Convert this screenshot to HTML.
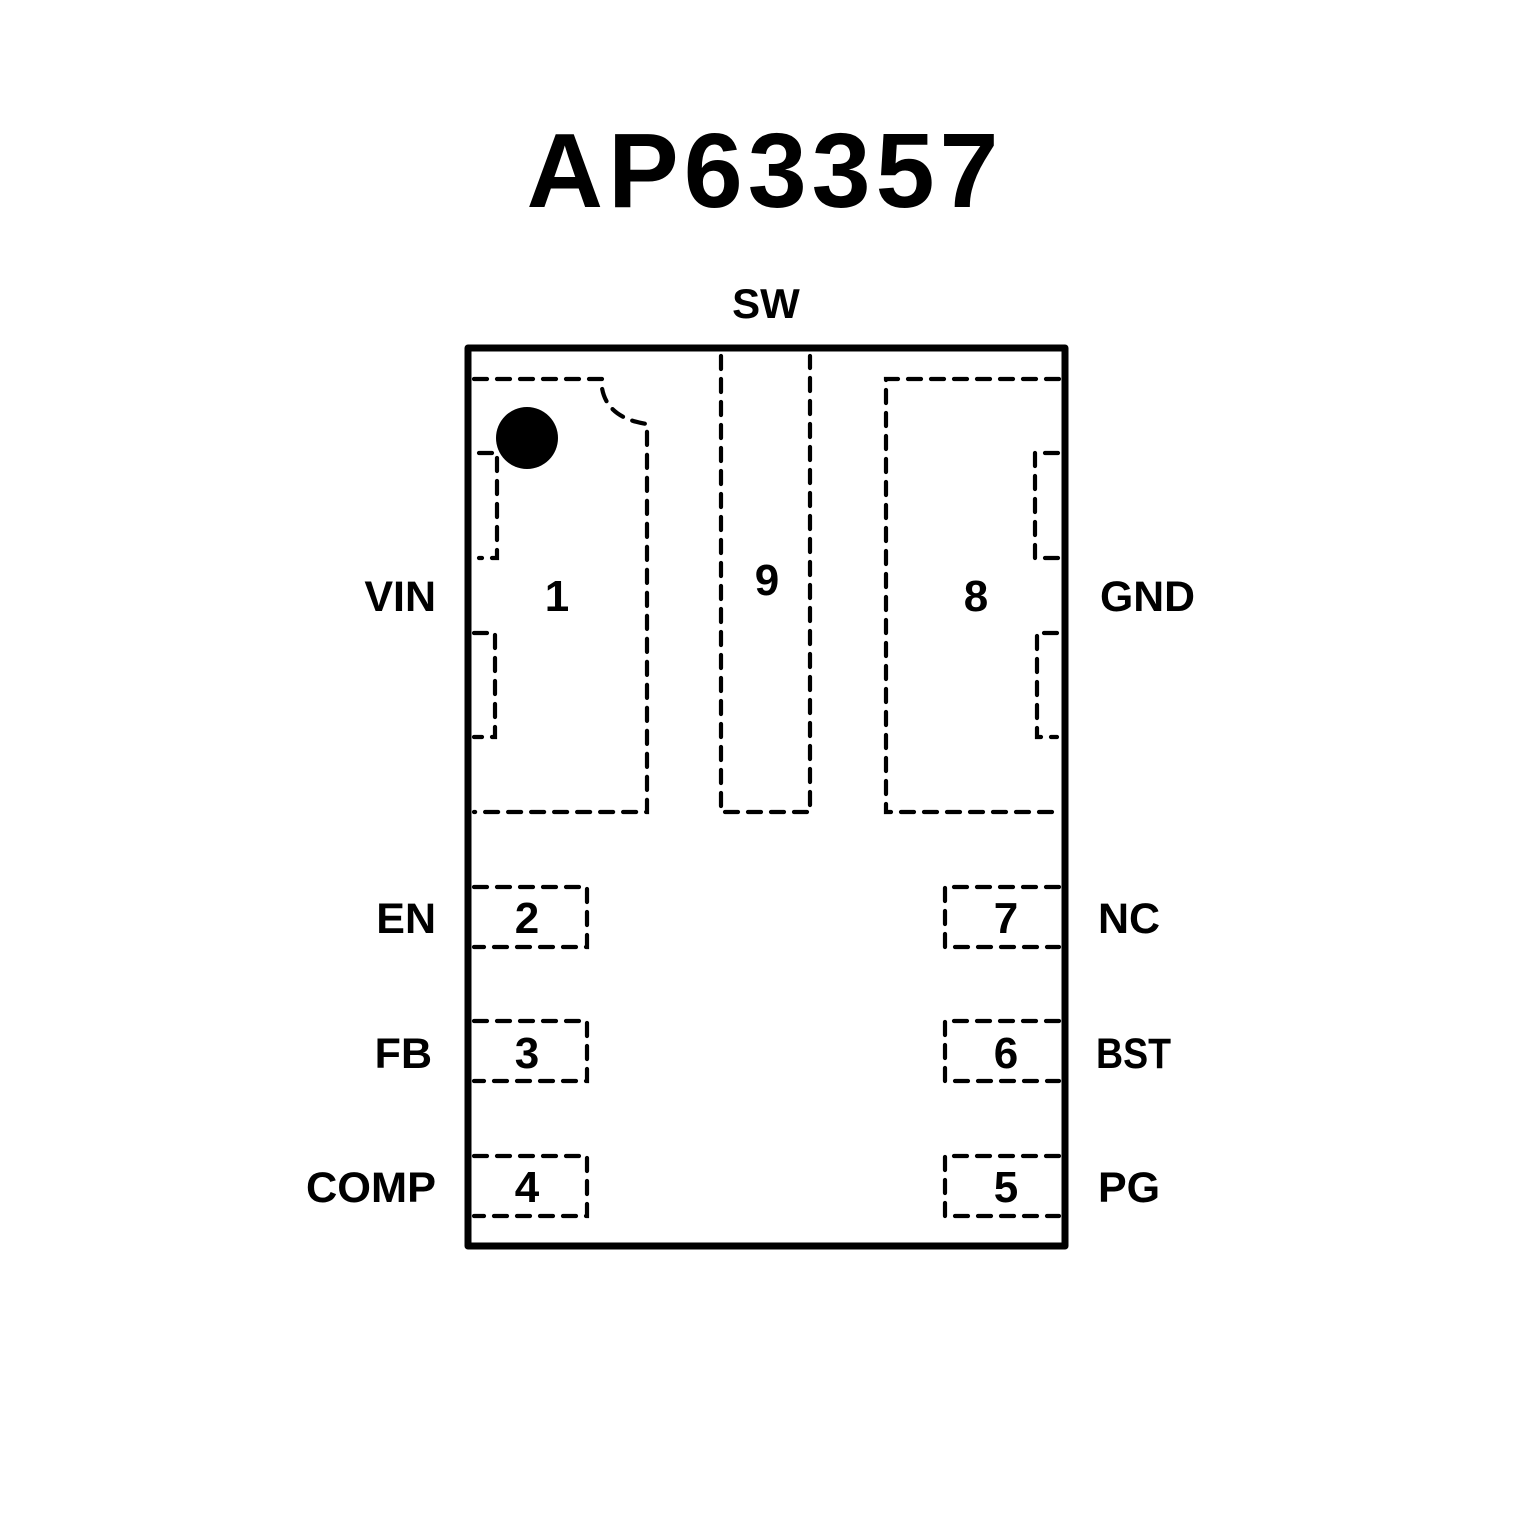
<!DOCTYPE html>
<html><head><style>
html,body{margin:0;padding:0;background:#fff;}
svg{display:block;}
text{font-family:"Liberation Sans",sans-serif;font-weight:bold;fill:#000;}
</style></head><body>
<svg width="1535" height="1535" viewBox="0 0 1535 1535" xmlns="http://www.w3.org/2000/svg">
<rect width="1535" height="1535" fill="#fff"/>
<text x="765" y="207" font-size="106" text-anchor="middle" letter-spacing="5">AP63357</text>
<text x="766" y="318" font-size="42" text-anchor="middle">SW</text>
<rect x="468" y="348" width="597" height="898" fill="none" stroke="#000" stroke-width="7" stroke-linejoin="round"/>
<g fill="none" stroke="#000" stroke-width="4.2" stroke-dasharray="13 10" stroke-linecap="round">
<path d="M474 379 H602 V388 Q607 418 647 424 V812 H474"/>
<path d="M479 453 H497 V558 H479"/>
<path d="M474 633 H495 V737 H474"/>
<path d="M721 356 V812 H810 V356"/>
<path d="M1059 379 H886 V812 H1059"/>
<path d="M1058 453 H1035 V558 H1058"/>
<path d="M1057 633 H1037 V737 H1057"/>
<path d="M474 887 H587 V947 H474"/>
<path d="M474 1021 H587 V1081 H474"/>
<path d="M474 1156 H587 V1216 H474"/>
<path d="M1059 887 H945 V947 H1059"/>
<path d="M1059 1021 H945 V1081 H1059"/>
<path d="M1059 1156 H945 V1216 H1059"/>
</g>
<circle cx="527" cy="438" r="31" fill="#000"/>
<g font-size="44" text-anchor="middle">
<text x="557" y="611">1</text>
<text x="767" y="595">9</text>
<text x="976" y="611">8</text>
<text x="527" y="933">2</text>
<text x="527" y="1068">3</text>
<text x="527" y="1202">4</text>
<text x="1006" y="933">7</text>
<text x="1006" y="1068">6</text>
<text x="1006" y="1202">5</text>
</g>
<g font-size="43" text-anchor="end">
<text x="436" y="611">VIN</text>
<text x="436" y="933">EN</text>
<text x="432" y="1068">FB</text>
<text x="436" y="1202" textLength="130" lengthAdjust="spacingAndGlyphs">COMP</text>
</g>
<g font-size="43">
<text x="1100" y="611" textLength="95" lengthAdjust="spacingAndGlyphs">GND</text>
<text x="1098" y="933">NC</text>
<text x="1096" y="1068" textLength="75" lengthAdjust="spacingAndGlyphs">BST</text>
<text x="1098" y="1202">PG</text>
</g>
</svg>
</body></html>
